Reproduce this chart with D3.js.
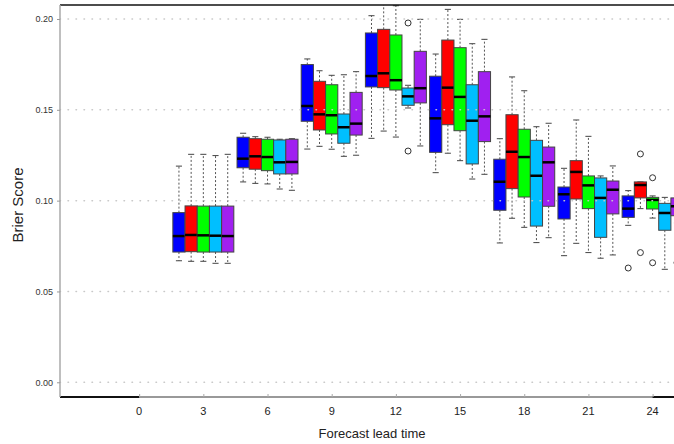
<!DOCTYPE html>
<html>
<head>
<meta charset="utf-8">
<script src="https://cdn.jsdelivr.net/npm/d3@7"></script>
<style>
  html, body { margin: 0; padding: 0; background: #fff; }
  svg text { font-family: "Liberation Sans Narrow", "Arial Narrow", "Liberation Sans", sans-serif; }
</style>
</head>
<body>
<div id="chart"></div>
<script>
// lead times (hours) and y ticks
const leadTimes = [3, 6, 9, 12, 15, 18, 21, 24];
const xTicks = [0, 3, 6, 9, 12, 15, 18, 21, 24];
const yTicks = [0, 0.05, 0.10, 0.15, 0.20];

const seriesColors = ['#0000ff', '#ff0000', '#00ff00', '#00bfff', '#a020f0'];

// per lead time: [whisker low, q1, median, q3, whisker high]
const blueStats = [
    [0.0669, 0.0717, 0.0805, 0.0934, 0.1190],
    [0.1103, 0.1181, 0.1231, 0.1349, 0.1371],
    [0.1284, 0.1437, 0.1521, 0.1749, 0.1780],
    [0.1343, 0.1626, 0.1686, 0.1923, 0.2018],
    [0.1154, 0.1266, 0.1453, 0.1685, 0.1807],
    [0.0767, 0.0947, 0.1104, 0.1228, 0.1341],
    [0.0697, 0.0899, 0.1035, 0.1075, 0.1178],
    [0.0864, 0.0908, 0.0956, 0.1026, 0.1055]
];
const redStats = [
    [0.0666, 0.0719, 0.0811, 0.0971, 0.1255],
    [0.1095, 0.1173, 0.1244, 0.1341, 0.1352],
    [0.1299, 0.1389, 0.1475, 0.1657, 0.1715],
    [0.1383, 0.1622, 0.1701, 0.1943, 0.2120],
    [0.1261, 0.1418, 0.1622, 0.1884, 0.2053],
    [0.0903, 0.1066, 0.1269, 0.1473, 0.1681],
    [0.0765, 0.1009, 0.1158, 0.1220, 0.1444],
    [0.0956, 0.1015, 0.1086, 0.1103, 0.1103]
];
const greenStats = [
    [0.0666, 0.0717, 0.0809, 0.0970, 0.1255],
    [0.1092, 0.1165, 0.1240, 0.1338, 0.1349],
    [0.1283, 0.1367, 0.1470, 0.1638, 0.1690],
    [0.1350, 0.1609, 0.1663, 0.1912, 0.2073],
    [0.1220, 0.1385, 0.1571, 0.1842, 0.1998],
    [0.0853, 0.1020, 0.1240, 0.1393, 0.1605],
    [0.0714, 0.0956, 0.1084, 0.1136, 0.1354],
    [0.0904, 0.0954, 0.1004, 0.1018, 0.1026]
];
const cyanStats = [
    [0.0655, 0.0717, 0.0807, 0.0970, 0.1248],
    [0.1064, 0.1147, 0.1211, 0.1334, 0.1338],
    [0.1244, 0.1316, 0.1404, 0.1477, 0.1693],
    [0.1510, 0.1525, 0.1574, 0.1620, 0.1635],
    [0.1119, 0.1202, 0.1440, 0.1638, 0.1864],
    [0.0769, 0.0860, 0.1137, 0.1332, 0.1407],
    [0.0683, 0.0798, 0.1015, 0.1125, 0.1136],
    [0.0622, 0.0837, 0.0932, 0.0985, 0.1018]
];
const purpleStats = [
    [0.0655, 0.0717, 0.0805, 0.0970, 0.1255],
    [0.1057, 0.1147, 0.1213, 0.1338, 0.1341],
    [0.1250, 0.1361, 0.1424, 0.1596, 0.1710],
    [0.1301, 0.1538, 0.1619, 0.1822, 0.1998],
    [0.1145, 0.1325, 0.1464, 0.1710, 0.1888],
    [0.0796, 0.0969, 0.1211, 0.1295, 0.1426],
    [0.0701, 0.0927, 0.1060, 0.1108, 0.1191],
    [0.0877, 0.0917, 0.0969, 0.1015, 0.1030]
];
const allStats = [blueStats, redStats, greenStats, cyanStats, purpleStats];

// outliers: [series index, lead time, value]
const outliers = [
    [3, 12, 0.1978], [3, 12, 0.1273],
    [0, 24, 0.0629],
    [1, 24, 0.1257], [1, 24, 0.0714],
    [2, 24, 0.1126], [2, 24, 0.0658],
    [4, 24, 0.0658]
];

const W = 674, H = 444;
const mLeft = 60, mRight = 674, mTop = 5, mBottom = 397;

const x = d3.scaleLinear().domain([-3.7, 25.0]).range([mLeft, mRight]);
const y = d3.scaleLinear().domain([-0.0081, 0.2077]).range([mBottom, mTop]);

const step = 0.57;           // spacing between boxes (hours)
const half = step / 2;

const svg = d3.select('#chart').append('svg')
    .attr('width', W).attr('height', H);

svg.append('defs').append('clipPath').attr('id', 'plotClip')
    .append('rect').attr('x', mLeft).attr('y', mTop)
    .attr('width', mRight - mLeft).attr('height', mBottom - mTop);

const plot = svg.append('g').attr('clip-path', 'url(#plotClip)');

// boxes
allStats.forEach((stats, s) => {
    const g = plot.append('g');
    stats.forEach((d, i) => {
        const cx = leadTimes[i] + (s - 2) * step;
        const x0 = x(cx - half), x1 = x(cx + half), xm = x(cx);
        const capW = (x1 - x0) * 0.25;
        // whiskers
        g.append('line').attr('x1', xm).attr('x2', xm)
            .attr('y1', y(d[3])).attr('y2', y(d[4]))
            .attr('stroke', '#555').attr('stroke-dasharray', '2,2');
        g.append('line').attr('x1', xm).attr('x2', xm)
            .attr('y1', y(d[1])).attr('y2', y(d[0]))
            .attr('stroke', '#555').attr('stroke-dasharray', '2,2');
        [d[0], d[4]].forEach(v => {
            g.append('line').attr('x1', xm - capW).attr('x2', xm + capW)
                .attr('y1', y(v)).attr('y2', y(v))
                .attr('stroke', '#444').attr('stroke-width', 1);
        });
        g.append('rect')
            .attr('x', x0).attr('width', x1 - x0)
            .attr('y', y(d[3])).attr('height', y(d[1]) - y(d[3]))
            .attr('fill', seriesColors[s])
            .attr('stroke', '#444').attr('stroke-width', 1);
        g.append('line').attr('x1', x0).attr('x2', x1)
            .attr('y1', y(d[2])).attr('y2', y(d[2]))
            .attr('stroke', '#000').attr('stroke-width', 2.5);
    });
});

// outliers
plot.append('g').selectAll('circle')
    .data(outliers)
    .join('circle')
    .attr('cx', d => x(d[1] + (d[0] - 2) * step))
    .attr('cy', d => y(d[2]))
    .attr('r', 3)
    .attr('fill', 'none')
    .attr('stroke', '#333')
    .attr('stroke-width', 1);

// dotted grid (drawn over boxes)
plot.append('g').selectAll('line')
    .data(yTicks)
    .join('line')
    .attr('x1', mLeft).attr('x2', mRight)
    .attr('y1', d => y(d)).attr('y2', d => y(d))
    .attr('stroke', '#c8c8c8')
    .attr('stroke-width', 1.5)
    .attr('stroke-linecap', 'round')
    .attr('stroke-dasharray', '0.5,7.5');

// frame
svg.append('line').attr('x1', mLeft).attr('x2', mRight).attr('y1', mTop).attr('y2', mTop)
    .attr('stroke', '#111').attr('stroke-width', 1.5);
svg.append('line').attr('x1', mLeft).attr('x2', mRight).attr('y1', mBottom).attr('y2', mBottom)
    .attr('stroke', '#111').attr('stroke-width', 2);

// x axis
const xAxis = svg.append('g')
    .attr('transform', `translate(0,${mBottom})`)
    .call(d3.axisTop(x).tickValues(xTicks).tickSize(3).tickFormat(''));
xAxis.select('.domain').attr('d', `M${x(0)},0H${x(24)}`)
    .attr('stroke', '#999').attr('stroke-width', 2);
xAxis.selectAll('.tick line').attr('stroke', '#aaa');

svg.append('g').selectAll('text')
    .data(xTicks)
    .join('text')
    .attr('x', d => x(d))
    .attr('y', 415)
    .attr('text-anchor', 'middle')
    .attr('font-size', 11)
    .attr('fill', '#222')
    .text(d => d);

// y axis
const yAxis = svg.append('g')
    .attr('transform', `translate(${mLeft},0)`)
    .call(d3.axisLeft(y).tickValues(yTicks).tickSize(3).tickPadding(4).tickFormat(d3.format('.2f')));
yAxis.select('.domain').attr('d', `M0,${mTop}V${mBottom}`)
    .attr('stroke', '#aaa').attr('stroke-width', 1.5);
yAxis.selectAll('.tick line').attr('stroke', '#999');
yAxis.selectAll('.tick text')
    .attr('font-size', 9)
    .attr('fill', '#333')
    .style('font-family', '"Liberation Sans Narrow", "Arial Narrow", sans-serif');

// titles
svg.append('text')
    .attr('x', 372).attr('y', 438)
    .attr('text-anchor', 'middle')
    .attr('font-size', 13)
    .attr('fill', '#222')
    .text('Forecast lead time');

svg.append('text')
    .attr('transform', 'translate(23,205) rotate(-90)')
    .attr('text-anchor', 'middle')
    .attr('font-size', 15)
    .attr('fill', '#222')
    .text('Brier Score');
</script>
</body>
</html>
